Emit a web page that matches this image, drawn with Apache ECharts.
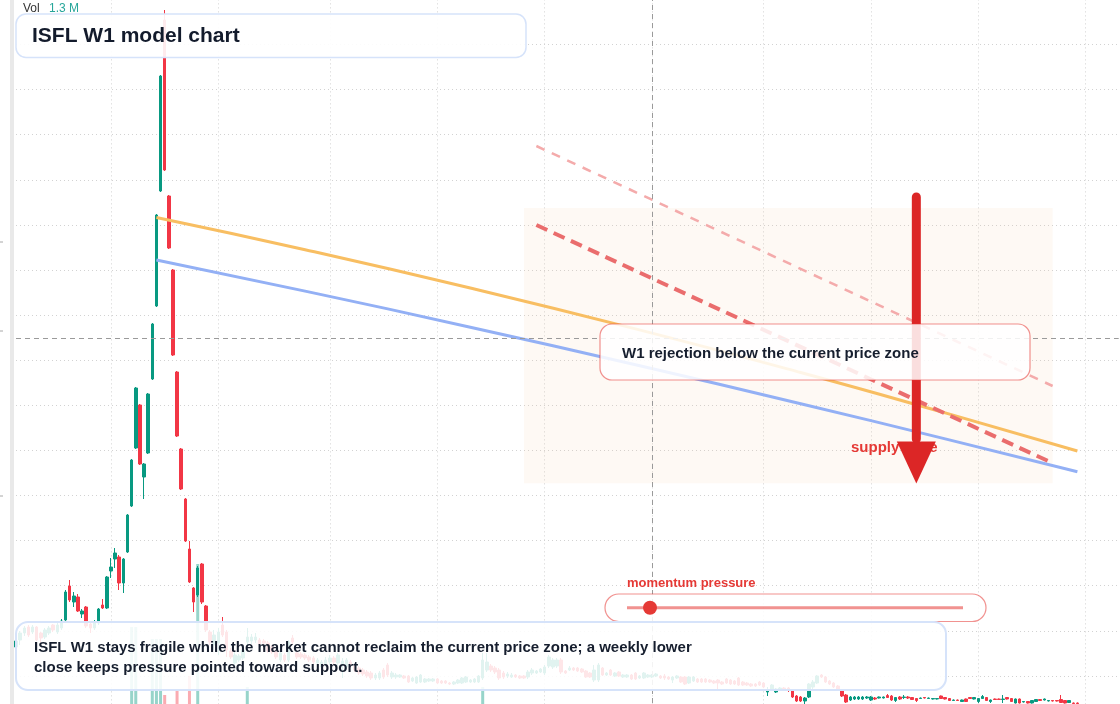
<!DOCTYPE html>
<html><head><meta charset="utf-8">
<script src="https://cdn.jsdelivr.net/npm/echarts@6/dist/echarts.min.js"></script>
<style>html,body{margin:0;padding:0;background:#fff}#c{width:1120px;height:704px}</style>
</head><body><div id="c"></div>
<script>
// Weekly candles: [open, close, low, high] in cents
const candles = [
[74,80,73,81],[81,88,76,90],[88,93,85,95],[94,86,84,96],[89,94,87,96],[94,81,80,95],[88,83,78,89],[84,91,82,93],[88,93,86,95],[96,91,89,97],
[89,96,87,98],[93,100,91,102],[101,129,99,131],[135,121,119,141],[119,125,114,129],[124,110,109,127],[107,110,103,112],[114,95,93,115],[97,93,88,99],[93,99,91,101],
[98,112,96,113],[116,113,112,122],[113,144,112,145],[150,154,143,163],[162,168,153,173],[164,138,131,166],[138,162,128,163],[169,206,168,207],[215,261,214,262],[273,333,272,334],
[316,257,256,317],[244,257,222,258],[268,327,267,328],[342,397,341,398],[415,506,414,507],[530,645,529,646],[701,551,550,711],[525,473,472,526],[451,366,365,452],[349,285,284,350],
[272,232,231,273],[222,180,179,223],[172,139,138,180],[133,119,109,134],[126,153,124,155],[157,119,117,158],[115,91,89,116],[89,79,76,91],[76,86,71,91],[78,89,66,93],
[96,86,84,104],[89,71,64,91],[70,64,62,73],[58,66,56,69],[61,65,59,67],[63,71,61,75],[79,84,69,93],[80,84,77,87],[81,84,78,88],[81,77,75,83],
[80,78,69,82],[78,70,68,80],[74,69,67,76],[69,64,62,71],[61,68,59,70],[66,61,59,68],[61,79,59,81],[83,79,77,86],[68,64,62,70],[67,64,62,69],
[66,63,61,68],[64,61,59,66],[63,59,57,65],[58,61,56,63],[54,59,52,61],[57,61,54,64],[59,63,56,66],[63,59,56,65],[58,66,55,68],[56,60,43,63],
[54,61,52,63],[59,55,53,61],[55,51,49,57],[53,48,46,55],[51,47,45,53],[49,45,43,51],[48,43,41,50],[43,46,41,48],[43,48,41,50],[51,44,42,53],
[56,46,44,58],[44,48,42,50],[44,46,42,48],[44,46,43,47],[45,43,42,46],[45,39,38,46],[40,43,39,44],[38,44,37,45],[39,46,38,47],[39,42,38,43],
[40,42,39,43],[40,42,39,43],[42,38,37,43],[40,38,37,41],[40,38,37,41],[38,37,36,39],[37,39,36,40],[38,41,37,42],[38,43,37,44],[39,44,38,45],
[39,41,38,42],[39,42,38,43],[39,45,38,46],[43,61,41,68],[51,59,49,68],[55,51,49,57],[53,49,47,55],[51,43,41,53],[48,44,42,50],[45,47,43,49],
[44,46,43,48],[46,44,43,47],[45,43,42,46],[45,43,42,46],[44,49,42,51],[48,51,46,53],[48,50,47,51],[49,52,48,53],[48,54,46,56],[55,64,53,66],
[54,61,52,63],[55,61,53,63],[61,49,47,63],[50,48,47,51],[51,53,50,55],[53,51,50,54],[53,50,49,54],[52,49,48,53],[50,44,43,51],[48,44,43,49],
[41,51,39,56],[41,56,39,58],[53,46,45,54],[46,48,45,49],[51,46,45,52],[45,48,44,49],[49,45,44,50],[44,46,43,47],[44,46,43,47],[46,42,41,47],
[48,42,41,49],[43,45,42,46],[43,48,42,49],[44,46,43,47],[44,46,43,47],[45,47,44,48],[45,43,42,46],[45,43,41,47],[44,42,41,45],[41,44,38,45],
[43,45,42,46],[44,39,38,45],[44,37,36,45],[38,44,37,45],[40,44,39,45],[42,39,38,43],[42,39,38,43],[42,39,38,43],[41,39,38,42],[40,38,37,41],
[41,38,31,42],[39,37,36,40],[42,38,37,43],[41,37,36,42],[40,37,36,41],[43,36,35,44],[39,36,35,40],[38,36,35,39],[37,35,34,38],[37,35,34,38],
[39,36,35,40],[38,34,33,39],[29,31,25,34],[31,36,30,37],[29,32,28,33],[31,33,30,34],[33,31,30,34],[33,31,29,34],[30,24,23,31],[25,20,19,26],
[24,20,19,25],[20,23,17,24],[24,37,23,38],[34,39,32,41],[38,45,37,46],[46,44,43,47],[44,39,38,45],[40,37,36,41],[38,34,33,39],[35,32,31,36],
[31,25,24,32],[26,19,18,27],[21,24,20,25],[22,24,21,25],[22,24,21,25],[22,24,21,25],[23,24,22,25],[21,24,20,25],[23,22,21,24],[23,24,22.5,24.5],
[23,24,22.5,24.5],[25.5,23.5,23,27],[25,21,20,26],[20.5,23.5,19,24],[24,22,21,25],[23.5,24,22,26],[24,23,22,25],[23.5,21.5,21,24],[22.5,20.5,19,23],[22.5,23,22,23.5],
[23.5,23,22.5,24],[22.5,23,22,23.5],[22,22.5,21.5,23],[22,22.5,21.5,23],[25,22.5,22,25.5],[23.5,22,21.5,24],[22.5,20.5,20,23],[20.5,21,20,21.5],[21,20.5,20,21.5],[19.5,21,19,21.5],
[22,19.5,19,22.5],[23.5,22.5,22,24],[22,23.5,21.5,24],[19.5,22.5,18,23],[22.5,24.5,22,26],[23.5,20.5,20,24],[19.5,21,18,21.5],[22,21.5,21,22.5],[22,21.5,21,22.5],[21.5,22,18,26],
[23.5,22,21.5,24],[22.5,19.5,19,23],[18,22,17.5,22.5],[22,18,17.5,22.5],[19,19.5,18.5,20],[19.5,18,17.5,20],[18,20.5,17.5,21],[19.5,21.5,19,22],[21.5,20.5,20,22],[21,22,20.5,22.5],
[20,20.5,19.5,21],[20.5,20,19.5,21],[20.5,20,19.5,21],[21.5,18.5,18,26],[20.5,18,17.5,21],[18.5,20.5,18,21],[18,17.5,17,18.5],[18,17.5,17,18.5]
];
// Weekly volume, millions
const volumes = [
0.6,0.5,0.7,0.4,0.5,0.6,0.4,0.5,0.4,0.5,0.6,0.7,1.4,1.2,0.9,1.0,0.7,1.1,0.8,0.7,
1.0,0.9,1.5,1.3,1.2,1.4,1.1,1.6,9.4,9.4,1.5,1.7,1.6,8.2,8.2,8.2,2.6,1.5,1.6,3.1,
1.4,1.6,4.5,1.2,15.7,1.5,1.3,1.1,0.9,1.0,1.2,0.8,0.7,0.6,0.6,0.8,3.4,0.9,0.7,0.6,
0.6,0.7,0.5,0.6,0.5,0.6,1.1,0.7,0.5,0.5,0.4,0.5,0.5,0.4,0.6,0.5,0.5,0.4,0.6,0.7,
0.5,0.4,0.5,0.5,0.4,0.5,0.6,0.4,0.5,0.6,0.7,0.4,0.4,0.3,0.4,0.5,0.4,0.5,0.6,0.4,
0.3,0.3,0.4,0.3,0.3,0.3,0.4,0.4,0.5,0.5,0.4,0.4,0.6,3.4,1.4,0.7,0.6,0.7,0.5,0.4,
0.4,0.4,0.4,0.3,0.6,0.5,0.4,0.4,0.6,1.0,0.8,0.7,0.8,0.5,0.5,0.4,0.4,0.4,0.6,0.5,
0.9,1.2,0.7,0.5,0.6,0.5,0.5,0.4,0.4,0.5,0.6,0.5,0.7,0.5,1.3,0.5,0.5,0.5,0.4,0.6,
0.5,0.6,0.7,0.6,0.5,0.5,0.5,0.4,0.4,0.4,0.8,0.4,0.5,0.5,0.4,0.6,0.5,0.4,0.4,0.4,
0.5,0.6,0.9,0.8,0.6,0.5,0.5,0.6,1.0,1.2,1.1,0.9,1.6,1.2,1.0,0.7,0.8,0.7,0.8,0.9,
1.2,1.4,0.8,0.6,0.5,0.5,0.4,0.6,0.5,0.4,0.4,0.6,0.8,0.6,0.5,0.5,0.5,0.6,0.7,0.4,
0.4,0.4,0.3,0.3,0.6,0.5,0.6,0.3,0.4,0.5,0.6,0.4,0.5,0.6,0.5,0.6,0.4,0.4,0.4,0.6,
0.5,0.7,0.8,0.8,0.3,0.5,0.6,0.5,0.4,0.4,0.3,0.3,0.7,0.8,0.6,0.5,0.5,0.5
];
const gridWeeks = [23,49,76,102,128,154,181,207,233,259];
const yellowTrend = [[34,503.5],[70,471.3],[110,433],[150,392.1],[190,348.5],[225,308.1],[256.6,270]];
const blueTrend = [[34,461],[70,429.9],[110,393.8],[150,356.3],[190,317.3],[225,282.1],[256.6,249.3]];
const rejectionUpper = [[126,575],[251,335]];
const rejectionLower = [[126,496],[251,257.9]];
const supplyArrow = [[218.4,524],[218.4,282]];
const arrowHead = [[218.4,258.5]];
const supplyZone = [[123,513],[251,237.7]];
const crosshair = {week:154, price:383};
const lastVolume = '1.3 M';
const edgeTickYs = [242, 331, 496];

const totalSlots = 268;
const weeks = [];
const start = new Date(Date.UTC(2020,5,1));
for (let i = 0; i < totalSlots; i++) {
  const d = new Date(start.getTime() + i*7*86400000);
  weeks.push(d.toISOString().slice(0,10));
}

const chart = echarts.init(document.getElementById('c'), null, {renderer:'canvas'});
const FONT = "'Liberation Sans', Arial, sans-serif";
const dotted = {color:'#d2d2d2', width:1, type:[1,3]};

const graphics = [
  {type:'rect', shape:{x:10, y:0, width:4, height:704}, style:{fill:'#e9e9e9'}, z:20, silent:true},
  {type:'text', x:23, y:9, style:{text:'Vol', font:'12px '+FONT, fill:'#333333', verticalAlign:'middle'}, z:20},
  {type:'text', x:49, y:9, style:{text:lastVolume, font:'12px '+FONT, fill:'#26a69a', verticalAlign:'middle'}, z:20},
  {type:'rect', shape:{x:16, y:14, width:510, height:43.5, r:10}, style:{fill:'rgba(255,255,255,0.9)', stroke:'#d6e3fa', lineWidth:1.5}, z:20},
  {type:'text', x:32, y:36, style:{text:'ISFL W1 model chart', font:'bold 21px '+FONT, fill:'#131b2c', verticalAlign:'middle'}, z:21},
  {type:'text', x:851, y:448, style:{text:'supply zone', font:'bold 15px '+FONT, fill:'#e53935', verticalAlign:'middle'}, z:5},
  {type:'rect', shape:{x:600, y:324, width:430, height:56, r:12}, style:{fill:'rgba(255,255,255,0.85)', stroke:'rgba(229,57,53,0.55)', lineWidth:1.2}, z:20},
  {type:'text', x:622, y:354, style:{text:'W1 rejection below the current price zone', font:'bold 15px '+FONT, fill:'#161e2e', verticalAlign:'middle'}, z:21},
  {type:'text', x:627, y:583, style:{text:'momentum pressure', font:'bold 13px '+FONT, fill:'#e53935', verticalAlign:'middle'}, z:21},
  {type:'rect', shape:{x:605, y:594, width:381, height:27.5, r:13.75}, style:{fill:'rgba(255,255,255,0.85)', stroke:'rgba(229,57,53,0.55)', lineWidth:1.2}, z:20},
  {type:'line', shape:{x1:627, y1:607.7, x2:963, y2:607.7}, style:{stroke:'rgba(229,57,53,0.55)', lineWidth:3}, z:21},
  {type:'circle', shape:{cx:650, cy:607.7, r:7}, style:{fill:'#e53935'}, z:22},
  {type:'rect', shape:{x:16, y:622, width:930, height:68, r:12}, style:{fill:'rgba(255,255,255,0.88)', stroke:'#d6e3fa', lineWidth:2}, z:20},
  {type:'text', x:34, y:658, style:{text:'ISFL W1 stays fragile while the market cannot reclaim the current price zone; a weekly lower\nclose keeps pressure pointed toward support.', font:'bold 15px '+FONT, fill:'#161e2e', verticalAlign:'middle', lineHeight:20}, z:21}
];
edgeTickYs.forEach(y => graphics.push({type:'line', shape:{x1:0, y1:y, x2:3, y2:y}, style:{stroke:'#a8a8a8', lineWidth:1}, z:20, silent:true}));

chart.setOption({
  animation:false,
  backgroundColor:'#ffffff',
  grid:{left:16, width:1102.7, top:-0.6, height:721.6, containLabel:false, outerBoundsMode:'none'},
  xAxis:[{type:'category', data:weeks, boundaryGap:false,
    axisLine:{show:false}, axisTick:{show:false}, axisLabel:{show:false},
    splitLine:{show:true, interval:(idx)=>gridWeeks.includes(idx), lineStyle:dotted}}],
  yAxis:[
    {type:'value', min:0, max:721.6, interval:45.1, axisLine:{show:false}, axisTick:{show:false}, axisLabel:{show:false},
     splitLine:{show:true, lineStyle:dotted}},
    {type:'value', min:0, max:72.16, show:false, splitLine:{show:false}}
  ],
  series:[
    {name:'Volume', type:'bar', yAxisIndex:1, barWidth:3, silent:true, z:1,
     data: volumes.map((v,i)=>({value:v, itemStyle:{color: candles[i][1]>=candles[i][0] ? 'rgba(8,153,129,0.42)' : 'rgba(242,54,69,0.42)'}}))},
    {name:'zone', type:'line', data:[], z:1, silent:true,
     markArea:{silent:true, itemStyle:{color:'rgba(245,205,170,0.13)'},
       data:[[{xAxis:supplyZone[0][0], yAxis:supplyZone[0][1]},{xAxis:supplyZone[1][0], yAxis:supplyZone[1][1]}]]}},
    {name:'ISFL', type:'candlestick', data:candles, barWidth:3, z:2, clip:false,
     itemStyle:{color:'#089981', color0:'#f23645', borderColor:'#089981', borderColor0:'#f23645', borderWidth:1}},
    {name:'upper band', type:'line', data:yellowTrend, smooth:true, symbol:'none', z:3, silent:true,
     lineStyle:{color:'#f8be62', width:3}},
    {name:'lower band', type:'line', data:blueTrend, smooth:true, symbol:'none', z:3, silent:true,
     lineStyle:{color:'#93b0f5', width:3}},
    {name:'rejection upper', type:'line', data:rejectionUpper, symbol:'none', z:3, silent:true,
     lineStyle:{color:'#f4abab', width:2.5, type:[9,8]}},
    {name:'rejection lower', type:'line', data:rejectionLower, symbol:'none', z:3, silent:true,
     lineStyle:{color:'#ea6d6d', width:4, type:[12,7]}},
    {name:'crosshair', type:'line', data:[], z:4, silent:true,
     markLine:{silent:true, symbol:'none', label:{show:false}, animation:false,
       lineStyle:{color:'#9a9a9a', width:1, type:[5,4]},
       data:[{xAxis:crosshair.week},{yAxis:crosshair.price}]}},
    {name:'arrow', type:'line', data:supplyArrow, symbol:'none', z:6, silent:true,
     lineStyle:{color:'#dc2626', width:9, cap:'round'}},
    {name:'arrow head', type:'scatter', data:arrowHead, z:6, silent:true,
     symbol:'path://M0,0 L40,0 L20,42 Z', symbolSize:[39,42], itemStyle:{color:'#dc2626', opacity:1}}
  ],
  graphic: graphics
});
</script></body></html>
